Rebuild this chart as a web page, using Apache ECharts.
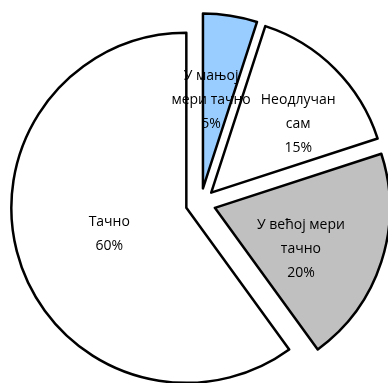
<!DOCTYPE html>
<html>
<head>
<meta charset="utf-8">
<script src="https://cdn.jsdelivr.net/npm/echarts@6/dist/echarts.min.js"></script>
<style>
  html, body { margin: 0; padding: 0; background: #ffffff; }
  #chart { width: 388px; height: 383px; }
</style>
</head>
<body>
<div id="chart"></div>
<script>
// Survey answers, in clockwise order from 12 o'clock
const categories = ['У мањој\nмери тачно', 'Неодлучан\nсам', 'У већој мери\nтачно', 'Тачно'];
const shares = [5, 15, 20, 60];

// Slice fills and small nudges for the in-slice labels
const sliceColors = ['#99CCFF', '#FFFFFF', '#C0C0C0', '#FFFFFF'];
const labelNudge = [[-6, 1], [23, -5], [0, 13], [9, -2]];

const chart = echarts.init(document.getElementById('chart'), null, { renderer: 'canvas' });

const pieData = categories.map((name, i) => ({
  name: name,
  value: shares[i],
  selected: true,
  itemStyle: { color: sliceColors[i] }
}));

chart.setOption({
  animation: false,
  series: [{
    type: 'pie',
    center: [200.6, 203.2],
    radius: 175,
    startAngle: 90,
    clockwise: true,
    selectedMode: 'multiple',
    selectedOffset: 15,
    avoidLabelOverlap: false,
    emphasis: { disabled: true },
    itemStyle: { borderColor: '#000000', borderWidth: 2.5 },
    label: {
      show: true,
      position: 'inside',
      formatter: p => p.name + '\n' + p.value + '%',
      color: '#000000',
      fontFamily: 'Open Sans',
      fontSize: 14,
      lineHeight: 24,
      align: 'center'
    },
    labelLayout: p => ({
      dx: labelNudge[p.dataIndex][0],
      dy: labelNudge[p.dataIndex][1]
    }),
    labelLine: { show: false },
    data: pieData
  }]
});
</script>
</body>
</html>
